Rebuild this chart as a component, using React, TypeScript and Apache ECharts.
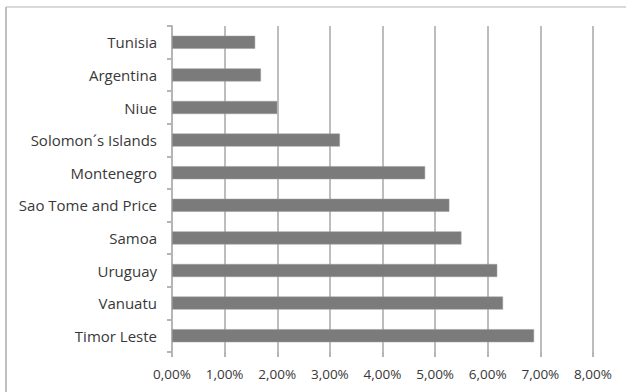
import React, { useEffect, useRef } from "react";
import * as echarts from "echarts";

// Countries, listed top to bottom
const countries = [
  "Tunisia",
  "Argentina",
  "Niue",
  "Solomon\u00b4s Islands",
  "Montenegro",
  "Sao Tome and Price",
  "Samoa",
  "Uruguay",
  "Vanuatu",
  "Timor Leste",
];

// Share in percent
const shares = [1.58, 1.69, 2.0, 3.19, 4.81, 5.27, 5.5, 6.18, 6.29, 6.88];

// Percent axis ticks
const axisMin = 0;
const axisMax = 8;
const axisStep = 1;

const fmtPct = (v: number) => v.toFixed(2).replace(".", ",") + "%";

export default function App() {
  const ref = useRef<HTMLDivElement>(null);

  useEffect(() => {
    if (!ref.current) return;
    const chart = echarts.init(ref.current, null, { renderer: "svg" });
    const font = "'Open Sans', Lato, sans-serif";
    chart.setOption({
      animation: false,
      backgroundColor: "#ffffff",
      grid: { left: 172, right: 33, top: 26, bottom: 40, containLabel: false },
      xAxis: {
        type: "value",
        min: axisMin,
        max: axisMax,
        interval: axisStep,
        axisLine: { show: false },
        axisTick: {
          show: true,
          length: 5,
          lineStyle: { color: "#b5b5b5", width: 2 },
        },
        splitLine: { show: true, lineStyle: { color: "#bdbdbd", width: 2 } },
        axisLabel: {
          formatter: (v: number) => fmtPct(v),
          color: "#383838",
          fontFamily: font,
          fontSize: 13.5,
          margin: 15,
        },
      },
      yAxis: {
        type: "category",
        data: countries,
        inverse: true,
        axisLine: { show: true, lineStyle: { color: "#b5b5b5", width: 2 } },
        axisTick: {
          show: true,
          length: 5,
          lineStyle: { color: "#b5b5b5", width: 2 },
        },
        axisLabel: {
          color: "#383838",
          fontFamily: font,
          fontSize: 15,
          margin: 15,
        },
        splitLine: { show: false },
      },
      series: [
        {
          type: "bar",
          data: shares,
          barWidth: 13,
          itemStyle: {
            color: "#7b7b7b",
            borderColor: "#9a9a9a",
            borderWidth: 0.5,
          },
        },
      ],
      graphic: [
        {
          type: "line",
          shape: { x1: 6, y1: 7, x2: 626, y2: 7 },
          style: { stroke: "#d9d9d9", lineWidth: 2 },
        },
        {
          type: "line",
          shape: { x1: 6, y1: 7, x2: 6, y2: 392 },
          style: { stroke: "#bfbfbf", lineWidth: 2 },
        },
      ],
    });
    return () => chart.dispose();
  }, []);

  return (
    <div
      ref={ref}
      style={{ position: "absolute", left: 0, top: 0, width: 626, height: 392 }}
    />
  );
}
